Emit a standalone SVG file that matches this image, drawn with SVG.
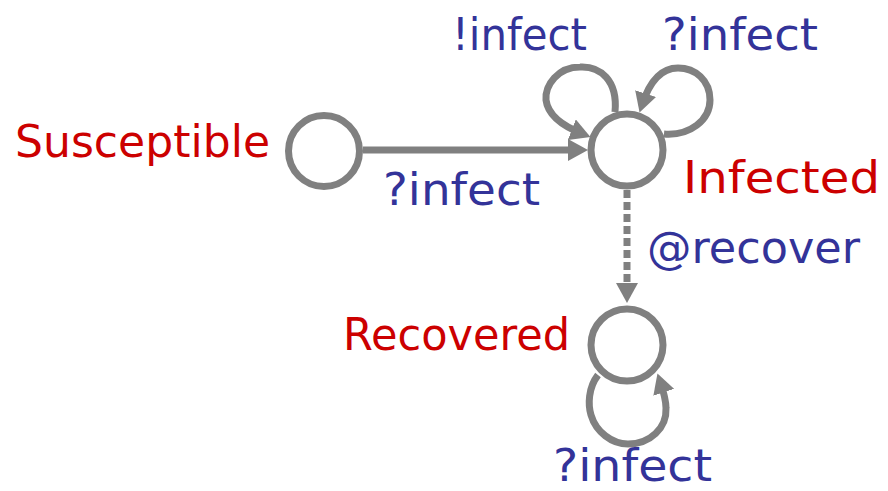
<svg xmlns="http://www.w3.org/2000/svg" width="888" height="491" viewBox="0 0 888 491">
  <style>
    .state { fill: #ffffff; stroke: #808080; stroke-width: 7; }
    .edge { fill: none; stroke: #808080; stroke-width: 7; }
    .dashed { stroke-dasharray: 8 4; }
    .name { font-family: 'Comic Sans MS', 'DejaVu Sans', sans-serif; font-size: 44px; fill: #CC0000; }
    .label { font-family: 'Comic Sans MS', 'DejaVu Sans', sans-serif; font-size: 44px; fill: #333399; }
  </style>
  <defs>
    <marker id="arrow" markerUnits="userSpaceOnUse" viewBox="0 0 20 22" markerWidth="20" markerHeight="22" refX="12" refY="11" orient="auto">
      <path d="M0,0 L20,11 L0,22 z" fill="#808080"/>
    </marker>
  </defs>
  <g id="connectors">
    <path id="e-sus-inf" class="edge" d="M363,150 L580,150" marker-end="url(#arrow)"/>
    <path id="e-inf-rec" class="edge dashed" d="M627,190 L627,295" marker-end="url(#arrow)"/>
    <path id="e-inf-self-send" class="edge" d="M615,112 C618,80 600,66 580,67 C558,67 545,85 546,100 C548,116 565,127 583,134" marker-end="url(#arrow)"/>
    <path id="e-inf-self-recv" class="edge" d="M664,134 C690,136 710,120 710,100 C710,80 695,68 678,68 C662,68 650,80 642,105" marker-end="url(#arrow)"/>
    <path id="e-rec-self" class="edge" d="M598,375 C588,388 588,405 591,415 C596,432 612,444 628,444 C650,444 667,428 666,408 C666,400 663,390 660,381" marker-end="url(#arrow)"/>
  </g>
  <g id="susceptible">
    <circle class="state" cx="324" cy="151" r="35.5"/>
    <text class="name" x="15" y="157" textLength="255" lengthAdjust="spacingAndGlyphs">Susceptible</text>
  </g>
  <g id="infected">
    <circle class="state" cx="627" cy="150" r="36"/>
    <text class="name" x="683" y="193" textLength="197" lengthAdjust="spacingAndGlyphs">Infected</text>
  </g>
  <g id="recovered">
    <circle class="state" cx="627" cy="345" r="36"/>
    <text class="name" x="343" y="350" textLength="227" lengthAdjust="spacingAndGlyphs">Recovered</text>
  </g>
  <g id="labels">
    <text class="label" x="383" y="205" textLength="157" lengthAdjust="spacingAndGlyphs">?infect</text>
    <text class="label" x="452" y="50" textLength="135" lengthAdjust="spacingAndGlyphs">!infect</text>
    <text class="label" x="662" y="50" textLength="156" lengthAdjust="spacingAndGlyphs">?infect</text>
    <text class="label" x="647" y="263" textLength="213" lengthAdjust="spacingAndGlyphs">@recover</text>
    <text class="label" x="553" y="481" font-size="42" textLength="159" lengthAdjust="spacingAndGlyphs">?infect</text>
  </g>
</svg>
